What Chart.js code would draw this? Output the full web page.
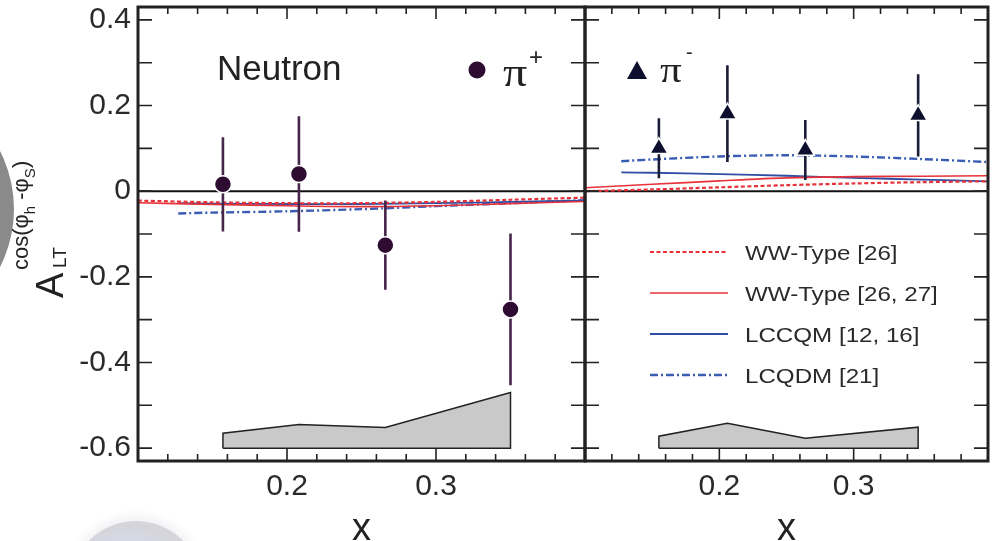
<!DOCTYPE html>
<html>
<head>
<meta charset="utf-8">
<script src="https://cdn.jsdelivr.net/npm/chart.js@4.4.1/dist/chart.umd.min.js"></script>
<style>
  body { margin: 0; background: #fff; width: 994px; height: 541px; overflow: hidden; position: relative; }
  .panel { position: absolute; top: 0; }
  /* background artifacts from the slide the figure was cut from */
  .blobL { position: absolute; left: -258px; top: 78px; width: 272px; height: 262px; border-radius: 50%;
           background: radial-gradient(circle at 50% 50%, #8a8a8a 80%, #727272 100%); }
  .blobB { position: absolute; left: 70px; top: 521px; width: 132px; height: 132px; border-radius: 50%;
           background: radial-gradient(circle at 45% 60%, #d3dcee 45%, #d6d4da 70%, #e2e0e5 100%);
           box-shadow: 0 0 10px 5px #f2f1f4; }
</style>
</head>
<body>
<div class="blobL"></div>
<div class="blobB"></div>
<div class="panel" style="left:0;width:590px;height:541px"><canvas id="left" width="590" height="541"></canvas></div>
<div class="panel" style="left:580px;width:414px;height:541px"><canvas id="right" width="414" height="541"></canvas></div>
<script>
// --- Axis ranges & ticks ---
const xMin = 0.1, xMax = 0.4;
const yMin = -0.63, yMax = 0.43;
const yTickValues = [-0.6, -0.5, -0.4, -0.3, -0.2, -0.1, 0, 0.1, 0.2, 0.3, 0.4];
const yTickLabels = ['-0.6', '', '-0.4', '', '-0.2', '', '0', '', '0.2', '', '0.4'];
const xTickValues = [0.1, 0.12, 0.14, 0.16, 0.18, 0.2, 0.22, 0.24, 0.26, 0.28, 0.3, 0.32, 0.34, 0.36, 0.38, 0.4];
const xTickLabels = ['', '', '', '', '', '0.2', '', '', '', '', '0.3', '', '', '', '', ''];
const xMajorTicks = [0.1, 0.2, 0.3, 0.4];

// --- pi+ (neutron), left panel ---
const xPiPlus = [0.157, 0.208, 0.266, 0.350];
const yPiPlus = [0.016, 0.040, -0.126, -0.276];
const errPiPlus = [0.110, 0.135, 0.104, 0.177];
const sysPiPlus = [-0.565, -0.545, -0.552, -0.470];

// --- pi- (neutron), right panel ---
const xPiMinus = [0.155, 0.206, 0.264, 0.348];
const yPiMinus = [0.100, 0.181, 0.096, 0.177];
const errPiMinus = [0.070, 0.113, 0.070, 0.096];
const sysPiMinus = [-0.572, -0.542, -0.577, -0.551];
const sysBase = -0.6;

// --- model curves ---
const xModelWW = [0.1, 0.15, 0.2, 0.25, 0.3, 0.35, 0.4];
const xModelLC = [0.127, 0.15, 0.2, 0.25, 0.3, 0.35, 0.4];
const ww26Plus   = [-0.022, -0.026, -0.028, -0.028, -0.025, -0.020, -0.015];
const ww2627Plus = [-0.027, -0.031, -0.034, -0.036, -0.034, -0.029, -0.024];
const lccqmPlus  = [-0.028, -0.029, -0.030, -0.030, -0.028, -0.025, -0.022];
const lcqdmPlus  = [-0.052, -0.050, -0.047, -0.042, -0.035, -0.028, -0.021];
const ww26Minus   = [0.000, 0.004, 0.009, 0.014, 0.018, 0.021, 0.023];
const ww2627Minus = [0.008, 0.016, 0.024, 0.031, 0.034, 0.035, 0.036];
const lccqmMinus  = [0.044, 0.043, 0.040, 0.036, 0.031, 0.027, 0.023];
const lcqdmMinus  = [0.070, 0.074, 0.081, 0.084, 0.081, 0.075, 0.068];
const modelNames = ['WW-Type [26]', 'WW-Type [26, 27]', 'LCCQM [12, 16]', 'LCQDM [21]'];

const RED = '#e8323a', BLUE = '#2f4ea3', BLUE2 = '#3a5db4';
const FONT = 'Liberation Sans, Arial, sans-serif';
const SERIF = 'Liberation Serif, Times New Roman, serif';

// --- helpers ---
const pts = (xs, ys) => xs.map((x, i) => ({ x, y: ys[i] }));

function errSegments(xs, ys, es) {
  const out = [];
  xs.forEach((x, i) => {
    out.push({ x, y: ys[i] - es[i] }, { x, y: ys[i] + es[i] }, { x, y: null });
  });
  return out;
}

function sysOutline(xs, tops) {
  const out = [{ x: xs[0], y: sysBase }];
  xs.forEach((x, i) => out.push({ x, y: tops[i] }));
  out.push({ x: xs[xs.length - 1], y: sysBase }, { x: xs[0], y: sysBase });
  return out;
}

function modelSets(vals) {
  const styles = [
    { borderColor: RED, borderWidth: 2.2, borderDash: [4, 2.5] },
    { borderColor: RED, borderWidth: 1.6, borderDash: [] },
    { borderColor: BLUE, borderWidth: 1.8, borderDash: [] },
    { borderColor: BLUE2, borderWidth: 2.4, borderDash: [8, 3, 2, 3] }
  ];
  const xs = [xModelWW, xModelWW, xModelLC, xModelLC];
  return vals.map((v, i) => Object.assign({
    label: modelNames[i], data: pts(xs[i], v), pointRadius: 0, tension: 0.3, fill: false, order: 2 + i
  }, styles[i]));
}

function panelDatasets(p) {
  return [
    { label: 'data', data: pts(p.x, p.y), showLine: false, pointStyle: p.style, pointRadius: p.r,
      pointBackgroundColor: p.color, pointBorderColor: '#fff', pointBorderWidth: 1.5, order: 0 },
    { label: 'stat', data: errSegments(p.x, p.y, p.err), borderColor: p.barColor, borderWidth: 2.6,
      pointRadius: 0, spanGaps: false, order: 1 },
    ...modelSets(p.models),
    { label: 'zero', data: [{ x: xMin, y: 0 }, { x: xMax, y: 0 }], borderColor: '#111', borderWidth: 2,
      pointRadius: 0, order: 6 },
    { label: 'sys edge', data: sysOutline(p.x, p.sys), borderColor: '#222', borderWidth: 1.5,
      pointRadius: 0, fill: false, order: 7 },
    { label: 'sys', data: pts(p.x, p.sys), fill: { value: sysBase }, backgroundColor: '#c9c9c9',
      borderWidth: 0, pointRadius: 0, order: 8 }
  ];
}

function txt(ctx, s, x, y, font, sx) {
  ctx.save();
  ctx.translate(x, y);
  ctx.scale(sx || 1, 1);
  ctx.font = font;
  ctx.fillText(s, 0, 0);
  ctx.restore();
}

// frame + inward ticks on all four sides
const framePlugin = {
  id: 'frame',
  afterDatasetsDraw(chart) {
    const { ctx, chartArea: a, scales: { x, y } } = chart;
    ctx.save();
    ctx.strokeStyle = '#222';
    ctx.lineWidth = 1.6;
    ctx.beginPath();
    yTickValues.forEach(v => {
      const py = y.getPixelForValue(v);
      ctx.moveTo(a.left, py); ctx.lineTo(a.left + 14, py);
      ctx.moveTo(a.right, py); ctx.lineTo(a.right - 14, py);
    });
    x.ticks.forEach(t => {
      const px = x.getPixelForValue(t.value);
      const len = xMajorTicks.some(m => Math.abs(m - t.value) < 1e-6) ? 12 : 7;
      ctx.moveTo(px, a.bottom); ctx.lineTo(px, a.bottom - len);
      ctx.moveTo(px, a.top); ctx.lineTo(px, a.top + len);
    });
    ctx.stroke();
    ctx.lineWidth = 3;
    ctx.strokeRect(a.left, a.top, a.right - a.left, a.bottom - a.top);
    ctx.restore();
  }
};

const leftNotes = {
  id: 'leftNotes',
  afterDraw(chart) {
    const ctx = chart.ctx;
    ctx.save();
    ctx.fillStyle = '#222';
    txt(ctx, 'Neutron', 217, 80, '35px ' + FONT);
    ctx.fillStyle = '#2e0b30';
    ctx.beginPath(); ctx.arc(477, 70, 8.5, 0, Math.PI * 2); ctx.fill();
    ctx.fillStyle = '#222';
    txt(ctx, 'π', 503, 86, '40px ' + SERIF, 1.2);
    txt(ctx, '+', 529, 65, '24px ' + FONT);
    // y title: A_LT^{cos(phi_h - phi_S)}
    ctx.translate(63, 298);
    ctx.rotate(-Math.PI / 2);
    txt(ctx, 'A', 0, 0, '38px ' + FONT);
    txt(ctx, 'LT', 30, 3, '19px ' + FONT);
    let u = 28;
    const sup = (s, dv, f) => { ctx.font = f; txt(ctx, s, u, dv, f); u += ctx.measureText(s).width; };
    sup('cos(φ', -35, '22px ' + FONT);
    sup('h', -28, '15px ' + FONT);
    sup(' -φ', -35, '22px ' + FONT);
    sup('S', -28, '15px ' + FONT);
    sup(')', -35, '22px ' + FONT);
    ctx.restore();
  }
};

const rightNotes = {
  id: 'rightNotes',
  afterDraw(chart) {
    const ctx = chart.ctx;
    ctx.save();
    // pi- key
    ctx.fillStyle = '#0d0f2e';
    ctx.beginPath();
    ctx.moveTo(57, 61); ctx.lineTo(67, 79); ctx.lineTo(47, 79); ctx.closePath(); ctx.fill();
    ctx.fillStyle = '#222';
    txt(ctx, 'π', 80, 82, '36px ' + SERIF, 1.2);
    txt(ctx, '-', 106, 59, '20px ' + FONT);
    // model legend
    const rows = [252, 293, 334, 375];
    chart.data.datasets.filter(d => modelNames.includes(d.label)).forEach((d, i) => {
      const yy = rows[i];
      ctx.strokeStyle = d.borderColor;
      ctx.lineWidth = d.borderWidth;
      ctx.setLineDash(d.borderDash);
      ctx.beginPath(); ctx.moveTo(70, yy); ctx.lineTo(148, yy); ctx.stroke();
      ctx.setLineDash([]);
      ctx.fillStyle = '#2a2a2a';
      txt(ctx, d.label, 165, yy + 8, '21px ' + FONT, 1.15);
    });
    ctx.restore();
  }
};

function makeChart(id, p, isLeft) {
  return new Chart(document.getElementById(id), {
    type: 'line',
    data: { datasets: panelDatasets(p) },
    options: {
      responsive: false,
      animation: false,
      layout: { autoPadding: false,
                padding: isLeft ? { top: 7, right: 5, left: 0, bottom: 0 } : { top: 7, right: 6, left: 0, bottom: 0 } },
      plugins: { legend: { display: false }, tooltip: { enabled: false } },
      scales: {
        x: {
          type: 'linear', min: xMin, max: xMax,
          afterBuildTicks: s => { s.ticks = xTickValues.map(v => ({ value: v })); },
          afterFit: s => { s.height = 80; s.paddingLeft = 0; s.paddingRight = 0; },
          grid: { display: false, drawTicks: false },
          border: { display: false },
          ticks: { autoSkip: false, maxRotation: 0, padding: 8, color: '#2a2a2a',
                   font: { family: FONT, size: 30 }, callback: (v, i) => xTickLabels[i] },
          title: { display: true, text: 'x', color: '#222', font: { family: FONT, size: 38, lineHeight: 0.6 },
                   padding: { top: 0, bottom: 0 } }
        },
        y: {
          type: 'linear', min: yMin, max: yMax,
          afterBuildTicks: s => { s.ticks = yTickValues.map(v => ({ value: v })); },
          afterFit: s => { s.width = isLeft ? 138 : 5; s.paddingTop = 0; s.paddingBottom = 0; },
          grid: { display: false, drawTicks: false },
          border: { display: false },
          ticks: { display: isLeft, padding: 7, color: '#2a2a2a',
                   font: { family: FONT, size: 30 }, callback: (v, i) => yTickLabels[i] }
        }
      }
    },
    plugins: [framePlugin, isLeft ? leftNotes : rightNotes]
  });
}

makeChart('left', {
  x: xPiPlus, y: yPiPlus, err: errPiPlus, sys: sysPiPlus, style: 'circle', r: 8.5,
  color: '#2e0b30', barColor: '#46264a',
  models: [ww26Plus, ww2627Plus, lccqmPlus, lcqdmPlus]
}, true);

makeChart('right', {
  x: xPiMinus, y: yPiMinus, err: errPiMinus, sys: sysPiMinus, style: 'triangle', r: 10.5,
  color: '#0d0f2e', barColor: '#1a1c38',
  models: [ww26Minus, ww2627Minus, lccqmMinus, lcqdmMinus]
}, false);
</script>
</body>
</html>
